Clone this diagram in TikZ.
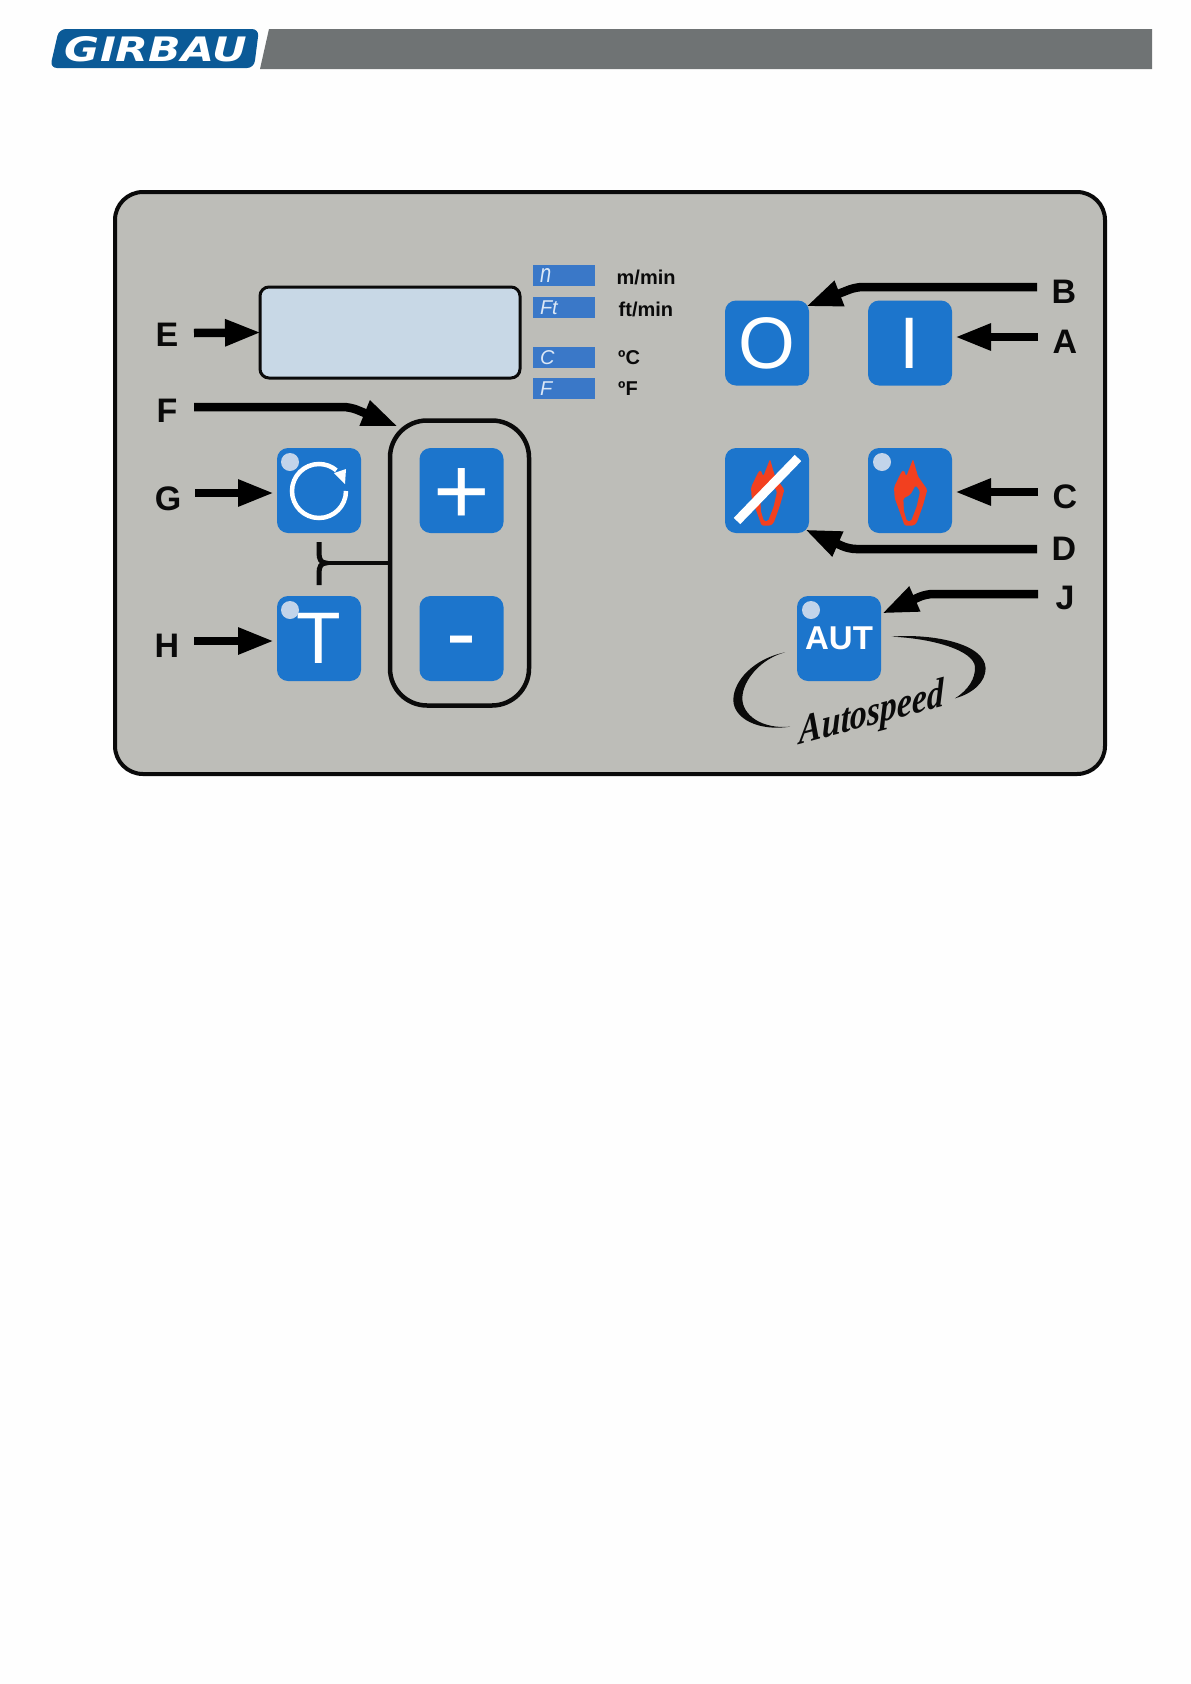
\documentclass[tikz,border=0pt]{standalone}
\usepackage{fontspec}
\usepackage{graphicx}
\setmainfont{Liberation Sans}
\newfontfamily\logofont[BoldFeatures={FakeBold=2}]{DejaVu Sans}
\newfontfamily\swashfont{Liberation Serif}
\usetikzlibrary{arrows.meta}
\definecolor{pagebg}{HTML}{FEFEFE}
\definecolor{panelgray}{HTML}{BDBDB8}
\definecolor{btnblue}{HTML}{1C75CC}
\definecolor{dispblue}{HTML}{C8D8E6}
\definecolor{dotblue}{HTML}{C2D4EA}
\definecolor{unitblue}{HTML}{3A78C8}
\definecolor{segwhite}{HTML}{DCE8F6}
\definecolor{flamered}{HTML}{F2401F}
\definecolor{logoblue}{HTML}{0B5A97}
\definecolor{bargray}{HTML}{6F7374}
\definecolor{inkblack}{HTML}{0A0A0A}
\newcommand{\pxf}[1]{\fontsize{#1}{#1}\selectfont}
\newcommand{\flameicon}[1]{%
  \begin{scope}[shift={(#1,448)},x=.3333pt,y=-.3333pt]
    \fill[flamered,rounded corners=1.5pt] (135,33) -- (150,85) -- (178,125) -- (165,172) -- (146,225) -- (136,233) -- (110,233) -- (100,205) -- (80,150) -- (78,118) -- (100,72) -- (107,66) -- (115,85) -- cycle;
    \fill[btnblue,rounded corners=1.5pt] (106,152) -- (128,140) -- (143,112) -- (156,130) -- (146,175) -- (129,219) -- (117,219) -- (108,190) -- cycle;
  \end{scope}}
\tikzset{
  panelbtn/.style={fill=btnblue,rounded corners=11pt,minimum width=84pt,minimum height=85pt,inner sep=0pt,outer sep=0pt,text=white,font=\pxf{73}},
  statusdot/.style={fill=dotblue,circle,minimum size=18pt,inner sep=0pt},
  unitbox/.style={fill=unitblue,minimum width=62pt,minimum height=21pt,text width=48pt,inner xsep=7pt,inner ysep=0pt,align=left,text=segwhite,font=\pxf{20}\itshape},
  unitlabel/.style={anchor=west,inner sep=0pt,font=\pxf{20}\bfseries,text=inkblack},
  keylabel/.style={minimum width=54pt,inner sep=0pt,outer sep=0pt,font=\pxf{34}\bfseries,text=inkblack},
  bigarrow/.style={draw=black,line width=8.5pt,rounded corners=7pt,-{Triangle[length=36pt,width=25pt]}},
}
\begin{document}
\begin{tikzpicture}[x=1pt,y=-1pt]
\useasboundingbox (0,0) rectangle (1191,1684);
\fill[pagebg] (0,0) rectangle (1191,1684);
% header
\fill[logoblue,rounded corners=7pt] (59,29) -- (259,29) -- (254,68) -- (50,68) -- cycle;
\node[inner sep=0pt,text=white] (logo) at (156,49) {\resizebox{182pt}{25pt}{\logofont\bfseries\itshape GIRBAU}};
\fill[bargray] (269,29) -- (1152,29) -- (1152,69) -- (260,69) -- cycle;
% panel
\draw[fill=panelgray,draw=inkblack,line width=4pt,rounded corners=28pt] (115,192) rectangle (1105,774);
% display
\node[draw=inkblack,fill=dispblue,line width=3pt,rounded corners=9pt,minimum width=260pt,minimum height=91pt,inner sep=0pt,outer sep=0pt] (disp) at (390,332.5) {};
% unit indicators
\node[unitbox] (uN) at (564,275.5) {\raisebox{-1pt}{\scalebox{1}[1.3]{n}}};
\node[unitbox] (uFt) at (564,307.5) {Ft};
\node[unitbox] (uC) at (564,357.5) {C};
\node[unitbox] (uF) at (564,388.5) {F};
\node[unitlabel] (tN) at (616.5,277) {m/min};
\node[unitlabel] (tFt) at (618.5,309) {ft/min};
\node[unitlabel] (tC) at (618,358) {ºC};
\node[unitlabel] (tF) at (618,389) {ºF};
% group outline
\node[draw=inkblack,line width=4.5pt,rounded corners=37pt,minimum width=139pt,minimum height=285pt,inner sep=0pt,outer sep=0pt] (grp) at (459.5,563) {};
% buttons
\node[panelbtn] (bG) at (319,490.5) {};
\node[panelbtn] (bT) at (319,638.5) {T};
\node[panelbtn,font=\pxf{97}] (bPlus) at (461.5,490.5) {\raisebox{-34pt}[0pt][0pt]{+}};
\node[panelbtn,font=\pxf{90}] (bMinus) at (461.5,638.5) {\raisebox{-25pt}[0pt][0pt]{-}};
\node[panelbtn] (bO) at (767,343) {O};
\node[panelbtn] (bI) at (910,343) {I};
\node[panelbtn] (bNo) at (767,490.5) {};
\node[panelbtn] (bFl) at (910,490.5) {};
\node[panelbtn,font=\pxf{33}\bfseries] (bAut) at (839,638.5) {AUT};
% status dots
\node[statusdot] (dG) at (290,462) {};
\node[statusdot] (dT) at (290,610) {};
\node[statusdot] (dFl) at (882,462) {};
\node[statusdot] (dAut) at (811,610) {};
% rotation icon
\draw[white,line width=4.5pt] (346,491) arc[start angle=0,end angle=-310,radius=27pt];
\fill[white] (334,473) -- (346,469) -- (345,484) -- cycle;
% flames
\flameicon{725}
\flameicon{868}
\draw[white,line width=9pt] (737,521) -- (798,458);
% brace
\coordinate (braceTop) at (319,542);
\coordinate (braceTip) at (326,563);
\coordinate (braceBot) at (319,585);
\draw[inkblack,line width=5pt] (braceTop) -- (319,553) .. controls (319,559) and (321,563) .. (braceTip) .. controls (321,563) and (319,567) .. (319,573) -- (braceBot);
\draw[inkblack,line width=4pt] (braceTip) -- (grp.west);
% labels
\node[keylabel] (lE) at (167,335) {E};
\node[keylabel] (lF) at (167,411) {F};
\node[keylabel] (lG) at (168,498.5) {G};
\node[keylabel] (lH) at (167,645.5) {H};
\node[keylabel] (lA) at (1065,342) {A};
\node[keylabel] (lB) at (1064,292) {B};
\node[keylabel] (lC) at (1065,497) {C};
\node[keylabel] (lD) at (1064,549) {D};
\node[keylabel] (lJ) at (1065,598) {J};
% arrows
\coordinate (bendF) at (350,407);
\coordinate (bendB) at (856,287);
\coordinate (bendD) at (849,549);
\coordinate (bendJ) at (926,594);
\draw[bigarrow] ([yshift=2pt]lE.east) -- ([xshift=1pt]disp.west);
\draw[bigarrow] ([yshift=4pt]lF.east) -- (bendF) -- ([xshift=8pt,yshift=-6pt]grp.north west);
\draw[bigarrow] ([yshift=5.5pt]lG.east) -- ([xshift=-3pt,yshift=-2.5pt]bG.west);
\draw[bigarrow] ([yshift=4.5pt]lH.east) -- ([xshift=-3pt,yshift=-2.5pt]bT.west);
\draw[bigarrow] ([yshift=5pt]lA.west) -- ([xshift=3pt,yshift=6pt]bI.east);
\draw[bigarrow] ([yshift=5pt]lB.west) -- (bendB) -- ([xshift=-3pt,yshift=-6pt]bO.north east);
\draw[bigarrow] ([yshift=5pt]lC.west) -- ([xshift=3pt,yshift=-1.5pt]bFl.east);
\draw[bigarrow] (lD.west) -- (bendD) -- ([xshift=-4pt,yshift=3.5pt]bNo.south east);
\draw[bigarrow] ([yshift=4pt]lJ.west) -- (bendJ) -- ([xshift=1pt,yshift=-17.5pt]bAut.north east);
% autospeed swooshes
\begin{scope}[shift={(725,590)},x=.3333pt,y=-.3333pt]
  \fill[inkblack] (180,187) .. controls (90,205) and (25,270) .. (25,330) .. controls (25,385) and (100,425) .. (195,410) .. controls (110,418) and (52,375) .. (52,325) .. controls (52,270) and (110,205) .. (180,187) -- cycle;
  \fill[inkblack] (500,140) .. controls (620,130) and (780,160) .. (782,235) .. controls (782,275) and (745,310) .. (690,325) .. controls (730,300) and (752,265) .. (750,230) .. controls (745,180) and (620,145) .. (500,140) -- cycle;
\end{scope}
\node[rotate=15,xslant=.25,inner sep=0pt,text=inkblack,font=\swashfont\pxf{35}\itshape\bfseries] (swash) at (872,715) {\scalebox{1}[1.15]{Autospeed}};
\end{tikzpicture}
\end{document}
